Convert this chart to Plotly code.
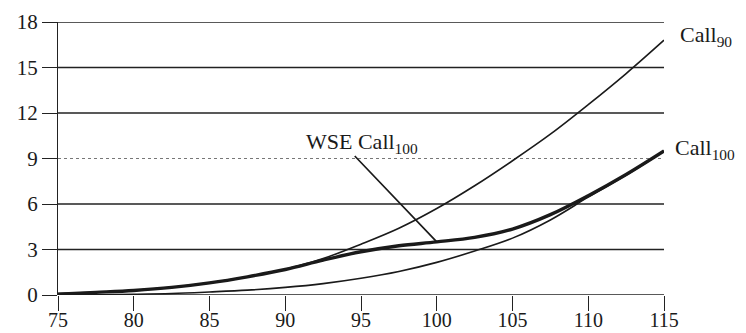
import plotly.graph_objects as go

x_vals = [75, 77.5, 80, 82.5, 85, 87.5, 90, 92.5, 95, 97.5, 100, 102.5, 105, 107.5, 110, 112.5, 115]
call_90 = [0.1, 0.18, 0.3, 0.5, 0.8, 1.2, 1.7, 2.4, 3.35, 4.4, 5.7, 7.2, 8.85, 10.6, 12.55, 14.6, 16.8]
call_100 = [0.0, 0.02, 0.05, 0.1, 0.2, 0.32, 0.5, 0.75, 1.1, 1.55, 2.15, 2.9, 3.75, 4.95, 6.45, 7.9, 9.5]
wse_call_100 = [0.05, 0.17, 0.3, 0.5, 0.8, 1.2, 1.68, 2.3, 2.85, 3.25, 3.5, 3.8, 4.35, 5.3, 6.55, 7.95, 9.5]

x_ticks = [75, 80, 85, 90, 95, 100, 105, 110, 115]
y_ticks = [0, 3, 6, 9, 12, 15, 18]

FONT = "'Liberation Serif', 'DejaVu Serif', serif"
INK = "#1a1a1a"

fig = go.Figure()

# horizontal grid lines (the 9-line is printed lighter/dotted in the reference)
for yv in y_ticks:
    if yv == 9:
        fig.add_hline(y=yv, line=dict(color="#777", width=1.2, dash="dot"), layer="below")
    else:
        fig.add_hline(y=yv, line=dict(color="#222", width=1.3), layer="below")

fig.add_trace(go.Scatter(x=x_vals, y=call_90, mode="lines", line=dict(color=INK, width=1.6, shape="spline"), name="Call90"))
fig.add_trace(go.Scatter(x=x_vals, y=call_100, mode="lines", line=dict(color=INK, width=1.6, shape="spline"), name="Call100"))
fig.add_trace(go.Scatter(x=x_vals, y=wse_call_100, mode="lines", line=dict(color=INK, width=3.4, shape="spline"), name="WSE Call100"))

fig.add_annotation(x=115, y=call_90[-1], xref="x", yref="y", text="Call<sub>90</sub>", showarrow=False,
                   xanchor="left", yanchor="middle", xshift=14, yshift=4, font=dict(family=FONT, size=22, color=INK))
fig.add_annotation(x=115, y=call_100[-1], xref="x", yref="y", text="Call<sub>100</sub>", showarrow=False,
                   xanchor="left", yanchor="middle", xshift=9, yshift=2, font=dict(family=FONT, size=22, color=INK))
# label text for the WSE curve (offset from the pointed-at point)
fig.add_annotation(x=100, y=wse_call_100[10], xref="x", yref="y", text="WSE Call<sub>100</sub>", showarrow=True,
                   arrowhead=0, arrowwidth=0.1, arrowcolor="rgba(0,0,0,0)", ax=-75, ay=-99,
                   font=dict(family=FONT, size=22, color=INK))
# pointer line
fig.add_annotation(x=100, y=wse_call_100[10], xref="x", yref="y", text=" ", showarrow=True,
                   arrowhead=0, arrowwidth=1.7, arrowcolor=INK, ax=-84, ay=-88,
                   font=dict(family=FONT, size=2, color=INK))

fig.update_layout(
    width=746, height=333,
    margin=dict(l=58, r=82, t=22, b=38),
    paper_bgcolor="white", plot_bgcolor="white",
    showlegend=False,
    font=dict(family=FONT, size=21, color=INK),
    xaxis=dict(range=[75, 115], tickvals=x_ticks, ticks="outside", ticklen=15, tickwidth=1.3, tickcolor="#222",
               showgrid=False, zeroline=False, showline=False, automargin=False, ticklabelstandoff=-8,
               tickfont=dict(family=FONT, size=20, color=INK)),
    yaxis=dict(range=[0, 18], tickvals=y_ticks, ticks="outside", ticklen=15, tickwidth=1.3, tickcolor="#222",
               showgrid=False, zeroline=False, automargin=False,
               showline=True, linecolor="#222", linewidth=1.3, tickfont=dict(family=FONT, size=21, color=INK)),
)

fig.write_html("out.html", config={"displayModeBar": False},
               post_script="document.body.style.margin='0';document.body.style.padding='0';")
